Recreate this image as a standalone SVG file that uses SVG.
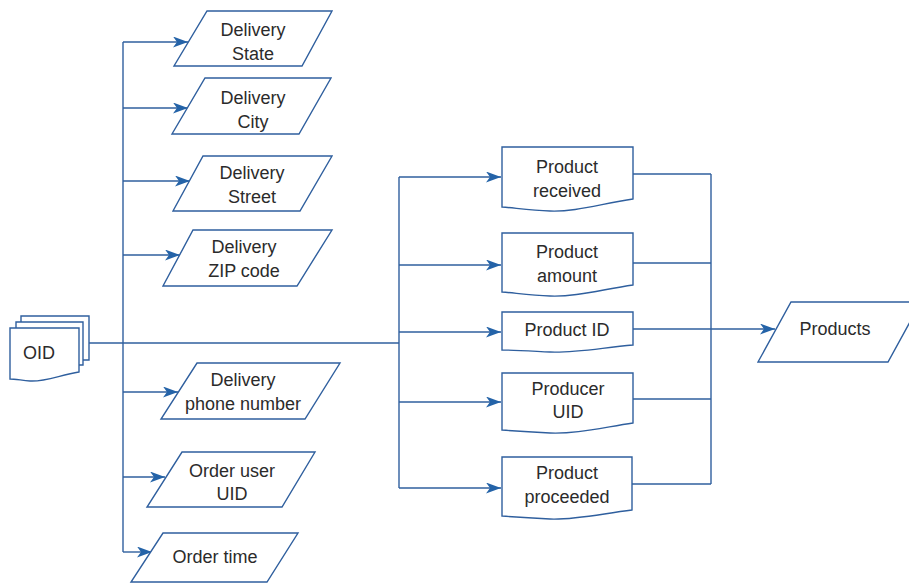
<svg xmlns="http://www.w3.org/2000/svg" width="909" height="583" viewBox="0 0 909 583">
  <style>
    .shape { fill: #ffffff; stroke: #2f5f9e; stroke-width: 1.4; stroke-linejoin: miter; }
    .wire { fill: none; stroke: #2f5f9e; stroke-width: 1.4; }
    .arrow { marker-end: url(#head); }
    text { font-family: "Liberation Sans", Arial, Helvetica, sans-serif; font-size: 18px; fill: #2b2b2b; text-anchor: middle; }
  </style>
  <defs>
    <marker id="head" markerUnits="userSpaceOnUse" markerWidth="16" markerHeight="12" refX="15" refY="5.5" orient="auto">
      <path d="M0,0 L15,5.5 L0,11 L4,5.5 Z" fill="#2463a8"/>
    </marker>
  </defs>

  <rect width="909" height="583" fill="#ffffff"/>

  <!-- connectors -->
  <g id="connectors">
    <path class="wire" d="M89,343 H399"/>
    <path class="wire" d="M123,42 V552"/>
    <path class="wire arrow" d="M123,42 H188"/>
    <path class="wire arrow" d="M123,108 H188"/>
    <path class="wire arrow" d="M123,181 H190"/>
    <path class="wire arrow" d="M123,255 H180"/>
    <path class="wire arrow" d="M123,392 H178"/>
    <path class="wire arrow" d="M123,477 H165"/>
    <path class="wire arrow" d="M123,552 H152"/>

    <path class="wire" d="M399,177 V488"/>
    <path class="wire arrow" d="M399,177 H501"/>
    <path class="wire arrow" d="M399,265 H501"/>
    <path class="wire arrow" d="M399,332 H501"/>
    <path class="wire arrow" d="M399,402 H501"/>
    <path class="wire arrow" d="M399,488 H501"/>

    <path class="wire" d="M711,174 V484"/>
    <path class="wire" d="M633,174 H711"/>
    <path class="wire" d="M633,263 H711"/>
    <path class="wire" d="M633,399 H711"/>
    <path class="wire" d="M632,484 H711"/>
    <path class="wire arrow" d="M633,329 H775"/>
  </g>

  <!-- source: stacked documents -->
  <g id="oid">
    <path class="shape" d="M21,316 H89 V360 H21 Z"/>
    <path class="shape" d="M16,322 H83 V365 H16 Z"/>
    <path class="shape" d="M10,328 H79 V372 C60,375 45,382 30,381 C20,380 14,379 10,379 Z"/>
    <text x="39" y="359">OID</text>
  </g>

  <!-- delivery / order fields -->
  <g id="delivery-state">
    <path class="shape" d="M207,11 H332 L302,66 H174 Z"/>
    <text x="253" y="36">Delivery</text>
    <text x="253" y="60">State</text>
  </g>
  <g id="delivery-city">
    <path class="shape" d="M205,78 H331 L299,134 H172 Z"/>
    <text x="253" y="104">Delivery</text>
    <text x="253" y="128">City</text>
  </g>
  <g id="delivery-street">
    <path class="shape" d="M203,156 H332 L300,211 H173 Z"/>
    <text x="252" y="179">Delivery</text>
    <text x="252" y="203">Street</text>
  </g>
  <g id="delivery-zip">
    <path class="shape" d="M193,230 H332 L297,286 H163 Z"/>
    <text x="244" y="253">Delivery</text>
    <text x="244" y="277">ZIP code</text>
  </g>
  <g id="delivery-phone">
    <path class="shape" d="M197,363 H340 L305,419 H161 Z"/>
    <text x="243" y="386">Delivery</text>
    <text x="243" y="410">phone number</text>
  </g>
  <g id="order-user">
    <path class="shape" d="M182,452 H315 L282,507 H147 Z"/>
    <text x="232" y="477">Order user</text>
    <text x="232" y="500">UID</text>
  </g>
  <g id="order-time">
    <path class="shape" d="M163,533 H298 L267,582 H131 Z"/>
    <text x="215" y="563">Order time</text>
  </g>

  <!-- product documents -->
  <g id="product-received">
    <path class="shape" d="M502,147 H633 V199 C600,204 575,212 550,211 C530,210 515,208 502,207 Z"/>
    <text x="567" y="173">Product</text>
    <text x="567" y="197">received</text>
  </g>
  <g id="product-amount">
    <path class="shape" d="M502,233 H633 V285 C600,290 575,297 550,296 C530,295 515,293 502,292 Z"/>
    <text x="567" y="258">Product</text>
    <text x="567" y="282">amount</text>
  </g>
  <g id="product-id">
    <path class="shape" d="M502,312 H633 V345 C600,348 575,353 550,352 C530,351 515,350 502,350 Z"/>
    <text x="567" y="336">Product ID</text>
  </g>
  <g id="producer-uid">
    <path class="shape" d="M502,373 H633 V423 C600,428 575,434 550,433 C530,432 515,431 502,430 Z"/>
    <text x="568" y="395">Producer</text>
    <text x="568" y="418">UID</text>
  </g>
  <g id="product-proceeded">
    <path class="shape" d="M502,457 H632 V510 C600,514 575,520 550,519 C530,518 515,517 502,516 Z"/>
    <text x="567" y="479">Product</text>
    <text x="567" y="503">proceeded</text>
  </g>

  <!-- output -->
  <g id="products">
    <path class="shape" d="M791,302 H921 L888,362 H758 Z"/>
    <text x="835" y="335">Products</text>
  </g>
</svg>
